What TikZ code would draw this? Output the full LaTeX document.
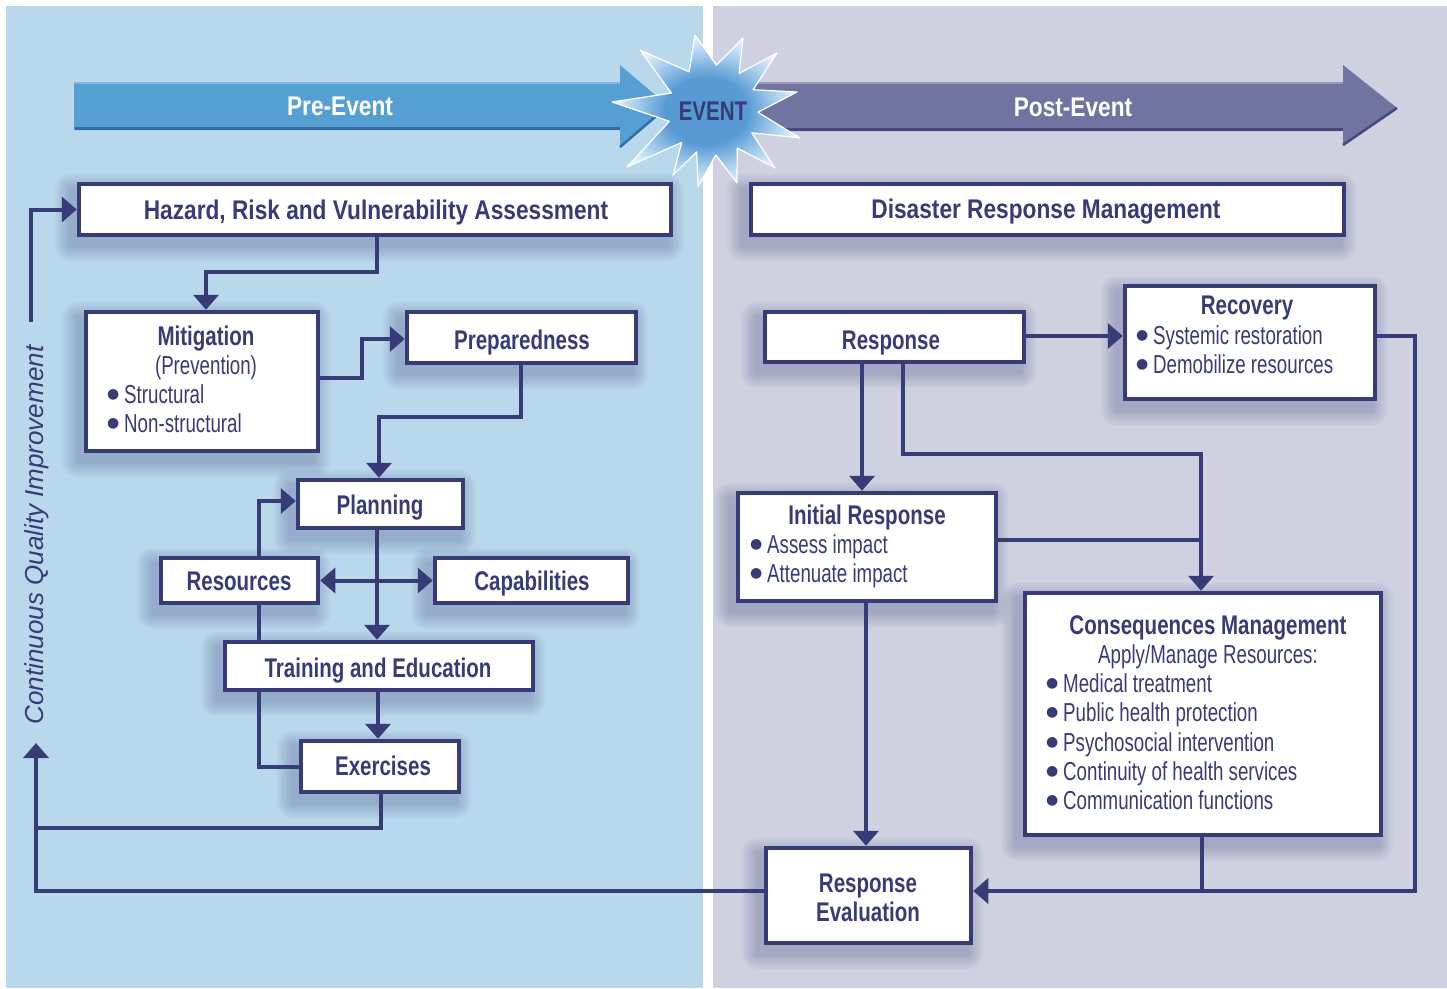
\documentclass[tikz,border=0pt]{standalone}
\usepackage{fontspec}
\setmainfont{Liberation Sans}
\newfontfamily\cnd{Liberation Sans}[FakeStretch=0.72]
\newfontfamily\cndb{Liberation Sans}[FakeStretch=0.76]
\newfontfamily\hdb{Liberation Sans}[FakeStretch=0.84]
\newfontfamily\djv{DejaVu Sans}
\newcommand\bul{\makebox[17pt][l]{\raisebox{5.5pt}{\djv\fontsize{14}{14}\selectfont ●}}}
\usetikzlibrary{arrows.meta}
\definecolor{navy}{RGB}{55,59,118}
\definecolor{leftbg}{RGB}{185,216,235}
\definecolor{rightbg}{RGB}{207,209,224}
\definecolor{prearrow}{RGB}{86,159,211}
\definecolor{prearrowdark}{RGB}{50,108,168}
\definecolor{prearrowlight}{RGB}{125,185,225}
\definecolor{postarrow}{RGB}{113,116,160}
\definecolor{postarrowdark}{RGB}{70,72,120}
\definecolor{postarrowlight}{RGB}{150,152,190}
\definecolor{starblue}{RGB}{88,154,212}
\definecolor{starlight}{RGB}{170,208,238}
\pgfdeclareradialshading{evstar}{\pgfpoint{0bp}{0bp}}{color(0bp)=(starblue); color(11bp)=(starblue); color(19bp)=(starlight); color(27bp)=(white); color(50bp)=(white)}
\pgfdeclarelayer{bg}
\pgfsetlayers{bg,main}
\newcommand\boxshadow[1]{%
  \foreach \r in {1,...,8}{%
    \fill[navy, opacity=0.035, rounded corners=2*\r pt]
      ([xshift={-6pt-2pt*\r}, yshift={-8pt-2pt*\r}]#1.south west) rectangle
      ([xshift={-6pt+2pt*\r}, yshift={-8pt+2pt*\r}]#1.north east);}}
\begin{document}
\begin{tikzpicture}[x=1pt,y=-1pt,
  >={Triangle[width=25pt,length=15pt]},
  box/.style={draw=navy, line width=4.5pt, fill=white, inner sep=0pt},
  conn/.style={draw=navy, line width=4pt},
  tb/.style={text=navy, inner sep=0pt, anchor=base, font=\cndb\bfseries\fontsize{27}{32}\selectfont},
  hb/.style={text=navy, inner sep=0pt, anchor=base, font=\hdb\bfseries\fontsize{27}{32}\selectfont},
  tr/.style={text=navy, inner sep=0pt, anchor=base, font=\cnd\fontsize{26}{31}\selectfont},
  tl/.style={tr, anchor=base west}]
\useasboundingbox (0,0) rectangle (1447,988);
\begin{pgfonlayer}{bg}
\fill[white] (0,0) rectangle (1447,988);
\fill[leftbg] (6,6) rectangle (703,988);
\fill[rightbg] (713,6) rectangle (1447,988);
\end{pgfonlayer}

% phase arrows
\fill[prearrow] (74,82) -- (620,82) -- (620,65) -- (668,106) -- (620,147) -- (620,130) -- (74,130) -- cycle;
\draw[prearrowlight, line width=2pt] (74,83) -- (620,83);
\draw[prearrowdark, line width=3pt] (75,128.5) -- (620,128.5);
\draw[prearrowdark, line width=2.5pt] (620,147) -- (668,106);
\fill[postarrow] (740,82) -- (1343,82) -- (1343,65) -- (1397,108) -- (1343,145) -- (1343,131) -- (740,131) -- cycle;
\draw[postarrowlight, line width=2pt] (740,83) -- (1343,83);
\draw[postarrowdark, line width=3pt] (740,129.5) -- (1343,129.5);
\draw[postarrowdark, line width=2.5pt] (1343,145) -- (1397,108);
\node[hb, text=white] (pre) at (340,115.5) {Pre-Event};
\node[hb, text=white] (post) at (1073,116.5) {Post-Event};

% event star
\path[shading=evstar, draw=white, line width=1.2pt, line join=round]
  (695,35) -- (716.5,65.1) -- (743,38) -- (739.1,73.4) -- (777,53) -- (753.1,89.7)
  -- (797,92) -- (757.9,112.2) -- (800,138) -- (751.8,132.8) -- (775,168)
  -- (737.2,147.9) -- (737,183) -- (715.8,154.9) -- (698,187) -- (696.7,151.9)
  -- (673,175) -- (681.7,142.4) -- (627,167) -- (669.4,121.3) -- (612,102)
  -- (671.3,93.1) -- (640,50) -- (689.1,71.8) -- cycle;
\node[tb] (ev) at (713,120.5) {EVENT};

% boxes
\node[box, minimum width=592pt, minimum height=51pt] (haz) at (375,209.5) {};
\node[box, minimum width=593pt, minimum height=51pt] (drm) at (1047.5,209.5) {};
\node[box, minimum width=232pt, minimum height=139pt] (mit) at (202,381.5) {};
\node[box, minimum width=229pt, minimum height=51pt] (prep) at (521.5,337.5) {};
\node[box, minimum width=165pt, minimum height=48pt] (plan) at (380.5,504) {};
\node[box, minimum width=157pt, minimum height=45pt] (res) at (239.5,580.5) {};
\node[box, minimum width=193pt, minimum height=45pt] (cap) at (531.5,580.5) {};
\node[box, minimum width=308pt, minimum height=48pt] (train) at (379,666) {};
\node[box, minimum width=158pt, minimum height=51pt] (exer) at (380,766.5) {};
\node[box, minimum width=259pt, minimum height=50pt] (resp) at (894.5,337) {};
\node[box, minimum width=250pt, minimum height=113pt] (rec) at (1250,342.5) {};
\node[box, minimum width=258pt, minimum height=108pt] (init) at (867,547) {};
\node[box, minimum width=356pt, minimum height=242pt] (cons) at (1203,714) {};
\node[box, minimum width=205pt, minimum height=95pt] (reval) at (868.5,895.5) {};

\begin{pgfonlayer}{bg}
\foreach \b in {haz,drm,mit,prep,plan,res,cap,train,exer,resp,rec,init,cons,reval}{\boxshadow{\b}}
\end{pgfonlayer}

% texts
\node[hb] (thaz) at (376,219.5) {Hazard, Risk and Vulnerability Assessment};
\node[hb] (tdrm) at (1046,218.5) {Disaster Response Management};
\node[tb] (tmit) at (206,345.5) {Mitigation};
\node[tr] (tmit2) at (206,374.5) {(Prevention)};
\node[tl] (tmit3) at (107,403.5) {\bul Structural};
\node[tl] (tmit4) at (107,432.5) {\bul Non-structural};
\node[tb] (tprep) at (522,349.5) {Preparedness};
\node[tb] (tplan) at (380,514.5) {Planning};
\node[tb] (tres) at (239,590.5) {Resources};
\node[tb] (tcap) at (532,590.5) {Capabilities};
\node[tb] (ttrain) at (378,677.5) {Training and Education};
\node[tb] (texer) at (383,775.5) {Exercises};
\node[tb] (tresp) at (891,349.5) {Response};
\node[tb] (trec) at (1247,314.5) {Recovery};
\node[tl] (trec2) at (1136,344.5) {\bul Systemic restoration};
\node[tl] (trec3) at (1136,373.5) {\bul Demobilize resources};
\node[tb] (tinit) at (867,524.5) {Initial Response};
\node[tl] (tinit2) at (750,553.5) {\bul Assess impact};
\node[tl] (tinit3) at (750,582.5) {\bul Attenuate impact};
\node[tb] (tcons) at (1208,634.5) {Consequences Management};
\node[tr] (tcons2) at (1208,663.5) {Apply/Manage Resources:};
\node[tl] (tcons3) at (1046,692.5) {\bul Medical treatment};
\node[tl] (tcons4) at (1046,721.5) {\bul Public health protection};
\node[tl] (tcons5) at (1046,751.5) {\bul Psychosocial intervention};
\node[tl] (tcons6) at (1046,780.5) {\bul Continuity of health services};
\node[tl] (tcons7) at (1046,809.5) {\bul Communication functions};
\node[tb] (trev1) at (868,892.5) {Response};
\node[tb] (trev2) at (868,921.5) {Evaluation};
\node[text=navy, inner sep=0pt, anchor=base, rotate=90, font=\fontsize{26}{31}\selectfont\itshape] (cqi) at (43,535) {Continuous Quality Improvement};

% connectors, pre-event
\coordinate (cqistart) at (31,322);
\coordinate (cqitop) at (36,743);
\draw[conn,->] (cqistart) |- (haz.west);
\draw[conn,->] (377,0 |- haz.south) |- (206,272) -- (206,0 |- mit.north);
\draw[conn,->] (mit.east |- 0,378) -| (362,339) -- (prep.west |- 0,339);
\draw[conn,->] (521,0 |- prep.south) |- (379,417) -- (379,0 |- plan.north);
\draw[conn,->] (377,0 |- plan.south) -- (377,0 |- train.north);
\draw[conn,<->] (res.east) -- (cap.west);
\draw[conn,->] (259,0 |- res.north) |- (plan.west |- 0,501);
\draw[conn] (259,0 |- res.south) -- (259,0 |- train.north);
\draw[conn] (259,0 |- train.south) |- (exer.west);
\draw[conn,->] (378,0 |- train.south) -- (378,0 |- exer.north);
\draw[conn] (381,0 |- exer.south) |- (36,828);
\draw[conn,->] (reval.west |- 0,891) -| (cqitop);

% connectors, post-event
\draw[conn,->] (resp.east |- 0,336) -- (rec.west |- 0,336);
\draw[conn,->] (862,0 |- resp.south) -- (862,0 |- init.north);
\draw[conn,->] (903,0 |- resp.south) |- (1201,454) -- (1201,0 |- cons.north);
\draw[conn] (init.east |- 0,540) -- (1201,540);
\draw[conn,->] (866,0 |- init.south) -- (866,0 |- reval.north);
\draw[conn,->] (rec.east |- 0,336) -| (1415,891) -- (reval.east |- 0,891);
\draw[conn] (1202,0 |- cons.south) -- (1202,891);
\end{tikzpicture}
\end{document}
